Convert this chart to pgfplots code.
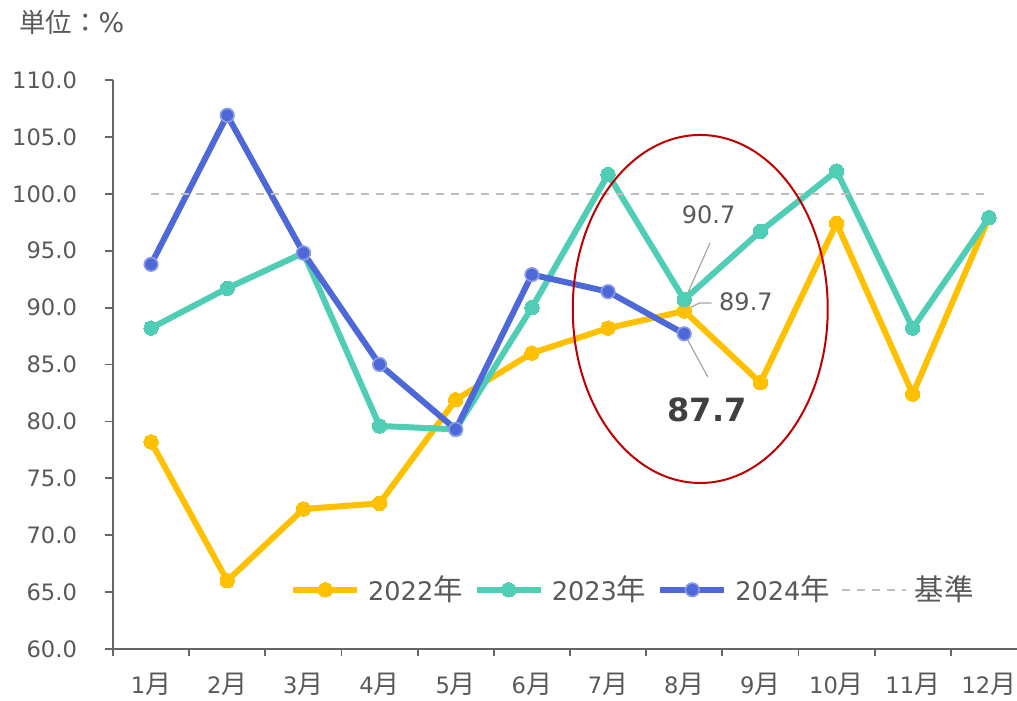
\documentclass[border=0pt]{standalone}
\usepackage{fontspec}
\setmainfont{DejaVu Sans}
\newfontfamily\cjk[Scale=1.15]{Noto Sans CJK JP}
\usepackage{pgfplots}
\pgfplotsset{compat=1.18}
\definecolor{c22}{HTML}{FFC000}
\definecolor{c23}{HTML}{4FCDB5}
\definecolor{c24}{HTML}{4F68D8}
\definecolor{c24e}{HTML}{8B9CE8}
\definecolor{txt}{HTML}{595959}
\definecolor{axc}{HTML}{666666}
\definecolor{base}{HTML}{BFBFBF}
\definecolor{lead}{HTML}{A6A6A6}
\definecolor{ell}{HTML}{C00000}
\newcommand\M[1]{#1{\cjk 月}}
\newcommand\Y[1]{#1{\cjk 年}}
\begin{document}
\begin{tikzpicture}
\begin{axis}[
  at={(0,0)}, anchor=south west,
  scale only axis, width=457pt, height=284.5pt,
  xmin=0.5, xmax=12.5, ymin=60, ymax=110,
  clip=false,
  axis x line*=bottom, axis y line*=left,
  axis line style={draw=axc, line width=0.9pt},
  tick align=outside,
  ytick={60,65,...,110},
  xtick={1,...,12},
  minor xtick={0.5,1.5,...,12.5},
  major x tick style={draw=none},
  every tick/.style={draw=axc, line width=0.9pt},
  major tick length=4pt, minor tick length=3.5pt,
  xticklabels={\M1,\M2,\M3,\M4,\M5,\M6,\M7,\M8,\M9,\M{10},\M{11},\M{12}},
  /pgf/number format/fixed, /pgf/number format/fixed zerofill,
  /pgf/number format/precision=1, /pgf/number format/assume math mode=true,
  ticklabel style={font=\fontsize{11.3}{13}\selectfont, text=txt},
  yticklabel style={xshift=-10.5pt},
  xticklabel style={yshift=-7pt, inner sep=1pt},
  legend columns=4,
  legend style={at={(0.57,0.104)}, anchor=center, draw=none, fill=none,
    font=\fontsize{12.8}{14}\selectfont, text=txt,
    /tikz/every odd column/.append style={column sep=2pt},
    /tikz/every even column/.append style={column sep=3.5pt}},
  legend image code/.code={\draw[mark repeat=2,mark phase=2] plot coordinates {(0pt,0pt)(16pt,0pt)(32pt,0pt)};},
]
\addplot[c22, line width=3pt, mark=*, mark size=3.6pt, mark options={fill=c22, draw=c22, line width=0pt}]
 coordinates {(1,78.2)(2,66.0)(3,72.3)(4,72.8)(5,81.9)(6,86.0)(7,88.2)(8,89.7)(9,83.4)(10,97.4)(11,82.4)(12,97.9)};
\addlegendentry{\Y{2022}}
\addplot[c23, line width=3pt, mark=*, mark size=3.6pt, mark options={fill=c23, draw=c23, line width=0pt}]
 coordinates {(1,88.2)(2,91.7)(3,94.8)(4,79.6)(5,79.3)(6,90.0)(7,101.7)(8,90.7)(9,96.7)(10,102.0)(11,88.2)(12,97.9)};
\addlegendentry{\Y{2023}}
\addplot[c24, line width=3pt, mark=*, mark size=3.4pt, mark options={fill=c24, draw=c24e, line width=0.8pt}]
 coordinates {(1,93.8)(2,106.9)(3,94.8)(4,85.0)(5,79.3)(6,92.9)(7,91.4)(8,87.7)};
\addlegendentry{\Y{2024}}
\addplot[base, line width=1pt, dash pattern=on 4pt off 3.5pt]
 coordinates {(1,100)(12,100)};
\addlegendentry{{\cjk 基準}}
\draw[ell, line width=1pt] (axis cs:8.21,89.88) ellipse [x radius=63.75pt, y radius=87pt];
\draw[lead, line width=0.6pt] (axis cs:8.34,95.7) -- (axis cs:8.02,90.9);
\draw[lead, line width=0.6pt] (axis cs:8.36,90.4) -- (axis cs:8.2,90.4) -- (axis cs:8.02,89.8);
\draw[lead, line width=0.6pt] (axis cs:8.01,87.6) -- (axis cs:8.31,83.9);
\node[text=txt, font=\fontsize{12}{14}\selectfont] at (axis cs:8.32,98.2) {90.7};
\node[text=txt, font=\fontsize{12}{14}\selectfont] at (axis cs:8.81,90.5) {89.7};
\node[text={rgb,255:red,64;green,64;blue,64}, font=\fontsize{16}{18}\selectfont\bfseries] at (axis cs:8.30,81.0) {87.7};
\end{axis}
\node[anchor=west, text=txt, font=\fontsize{11.5}{14}\selectfont, inner sep=0pt] at (-47pt,313.5pt) {{\cjk 単位：}{\fontsize{13.5}{14}\selectfont\%}};
\pgfresetboundingbox
\useasboundingbox (-56.5pt,-26pt) rectangle (452pt,324.5pt);
\end{tikzpicture}
\end{document}
